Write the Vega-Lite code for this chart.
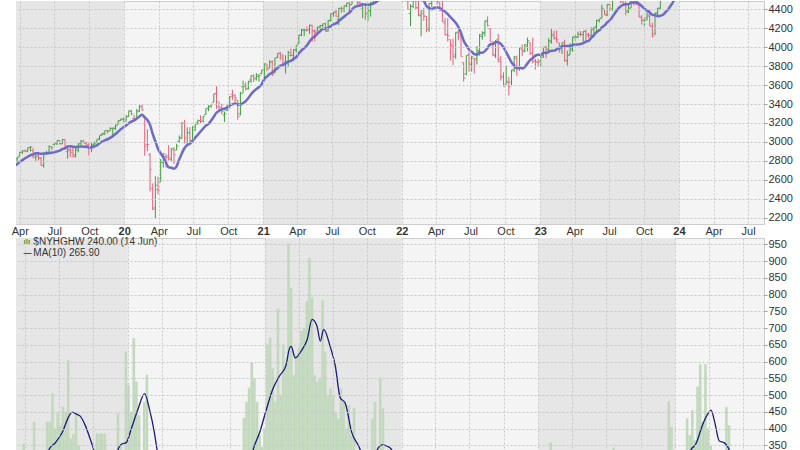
{
"$schema": "https://vega.github.io/schema/vega-lite/v6.json",
"padding": {"left": 10, "top": 0, "right": 0, "bottom": 0},
"bounds": "flush",
"spacing": 14,
"config": {
  "view": {"fill": "#f4f4f4", "stroke": "#a0a0a0", "strokeDash": [1, 1]},
  "font": "Liberation Sans",
  "axisY": {"labelOverlap": false, "labelFlush": false, "format": "d", "labelSeparation": 0}
},
"datasets": {
"bands": [{"s": "2019-01-01", "e": "2020-01-01"}, {"s": "2021-01-01", "e": "2022-01-01"}, {"s": "2023-01-01", "e": "2024-01-01"}],
"px": [
{"d":"2019-03-25","o":2822,"h":2836,"l":2785,"c":2834},
{"d":"2019-04-01","o":2848,"h":2893,"l":2848,"c":2893},
{"d":"2019-04-08","o":2889,"h":2910,"l":2874,"c":2907},
{"d":"2019-04-15","o":2908,"h":2917,"l":2891,"c":2905},
{"d":"2019-04-22","o":2898,"h":2940,"l":2898,"c":2940},
{"d":"2019-04-29","o":2940,"h":2954,"l":2900,"c":2946},
{"d":"2019-05-06","o":2909,"h":2932,"l":2825,"c":2881},
{"d":"2019-05-13","o":2841,"h":2892,"l":2801,"c":2860},
{"d":"2019-05-20","o":2841,"h":2872,"l":2805,"c":2826},
{"d":"2019-05-27","o":2831,"h":2841,"l":2750,"c":2752},
{"d":"2019-06-03","o":2751,"h":2876,"l":2728,"c":2873},
{"d":"2019-06-10","o":2885,"h":2905,"l":2873,"c":2887},
{"d":"2019-06-17","o":2889,"h":2964,"l":2887,"c":2950},
{"d":"2019-06-24","o":2951,"h":2951,"l":2911,"c":2942},
{"d":"2019-07-01","o":2971,"h":2996,"l":2963,"c":2990},
{"d":"2019-07-08","o":2980,"h":3014,"l":2966,"c":3014},
{"d":"2019-07-15","o":3017,"h":3017,"l":2975,"c":2977},
{"d":"2019-07-22","o":2983,"h":3028,"l":2976,"c":3026},
{"d":"2019-07-29","o":3024,"h":3028,"l":2914,"c":2932},
{"d":"2019-08-05","o":2898,"h":2944,"l":2822,"c":2919},
{"d":"2019-08-12","o":2907,"h":2943,"l":2840,"c":2889},
{"d":"2019-08-19","o":2913,"h":2940,"l":2835,"c":2847},
{"d":"2019-08-26","o":2866,"h":2940,"l":2836,"c":2926},
{"d":"2019-09-02","o":2910,"h":2985,"l":2891,"c":2979},
{"d":"2019-09-09","o":2988,"h":3021,"l":2964,"c":3007},
{"d":"2019-09-16","o":2996,"h":3022,"l":2985,"c":2992},
{"d":"2019-09-23","o":2984,"h":3002,"l":2946,"c":2962},
{"d":"2019-09-30","o":2968,"h":2992,"l":2855,"c":2952},
{"d":"2019-10-07","o":2944,"h":2993,"l":2892,"c":2970},
{"d":"2019-10-14","o":2965,"h":3004,"l":2961,"c":2986},
{"d":"2019-10-21","o":2997,"h":3027,"l":2992,"c":3023},
{"d":"2019-10-28","o":3036,"h":3067,"l":3021,"c":3067},
{"d":"2019-11-04","o":3078,"h":3094,"l":3066,"c":3093},
{"d":"2019-11-11","o":3080,"h":3121,"l":3075,"c":3120},
{"d":"2019-11-18","o":3118,"h":3127,"l":3090,"c":3110},
{"d":"2019-11-25","o":3117,"h":3154,"l":3115,"c":3141},
{"d":"2019-12-02","o":3144,"h":3150,"l":3070,"c":3146},
{"d":"2019-12-09","o":3141,"h":3182,"l":3125,"c":3169},
{"d":"2019-12-16","o":3183,"h":3225,"l":3183,"c":3221},
{"d":"2019-12-23","o":3226,"h":3247,"l":3223,"c":3240},
{"d":"2019-12-30","o":3240,"h":3259,"l":3212,"c":3235},
{"d":"2020-01-06","o":3217,"h":3282,"l":3214,"c":3265},
{"d":"2020-01-13","o":3271,"h":3330,"l":3264,"c":3330},
{"d":"2020-01-20","o":3321,"h":3338,"l":3280,"c":3295},
{"d":"2020-01-27","o":3248,"h":3285,"l":3214,"c":3226},
{"d":"2020-02-03","o":3235,"h":3348,"l":3235,"c":3328},
{"d":"2020-02-10","o":3319,"h":3385,"l":3315,"c":3380},
{"d":"2020-02-17","o":3370,"h":3393,"l":3328,"c":3338},
{"d":"2020-02-24","o":3257,"h":3260,"l":2855,"c":2954},
{"d":"2020-03-02","o":2974,"h":3136,"l":2900,"c":2972},
{"d":"2020-03-09","o":2863,"h":2883,"l":2478,"c":2711},
{"d":"2020-03-16","o":2508,"h":2562,"l":2281,"c":2305},
{"d":"2020-03-23","o":2290,"h":2637,"l":2192,"c":2541},
{"d":"2020-03-30","o":2498,"h":2632,"l":2447,"c":2489},
{"d":"2020-04-06","o":2578,"h":2819,"l":2575,"c":2790},
{"d":"2020-04-13","o":2782,"h":2880,"l":2729,"c":2875},
{"d":"2020-04-20","o":2846,"h":2868,"l":2727,"c":2837},
{"d":"2020-04-27","o":2855,"h":2965,"l":2803,"c":2831},
{"d":"2020-05-04","o":2816,"h":2934,"l":2798,"c":2930},
{"d":"2020-05-11","o":2915,"h":2945,"l":2767,"c":2864},
{"d":"2020-05-18","o":2913,"h":2980,"l":2913,"c":2955},
{"d":"2020-05-25","o":3005,"h":3068,"l":2988,"c":3044},
{"d":"2020-06-01","o":3038,"h":3211,"l":3032,"c":3194},
{"d":"2020-06-08","o":3199,"h":3233,"l":2984,"c":3041},
{"d":"2020-06-15","o":2994,"h":3155,"l":2966,"c":3098},
{"d":"2020-06-22","o":3095,"h":3155,"l":3004,"c":3009},
{"d":"2020-06-29","o":3018,"h":3166,"l":3000,"c":3130},
{"d":"2020-07-06","o":3155,"h":3186,"l":3115,"c":3185},
{"d":"2020-07-13","o":3206,"h":3236,"l":3184,"c":3225},
{"d":"2020-07-20","o":3225,"h":3280,"l":3200,"c":3216},
{"d":"2020-07-27","o":3219,"h":3272,"l":3209,"c":3271},
{"d":"2020-08-03","o":3289,"h":3352,"l":3284,"c":3351},
{"d":"2020-08-10","o":3356,"h":3387,"l":3327,"c":3373},
{"d":"2020-08-17","o":3380,"h":3399,"l":3362,"c":3397},
{"d":"2020-08-24","o":3418,"h":3509,"l":3418,"c":3508},
{"d":"2020-08-31","o":3509,"h":3588,"l":3349,"c":3427},
{"d":"2020-09-07","o":3369,"h":3425,"l":3310,"c":3341},
{"d":"2020-09-14","o":3364,"h":3402,"l":3292,"c":3319},
{"d":"2020-09-21","o":3285,"h":3320,"l":3210,"c":3298},
{"d":"2020-09-28","o":3334,"h":3393,"l":3324,"c":3348},
{"d":"2020-10-05","o":3368,"h":3485,"l":3355,"c":3477},
{"d":"2020-10-12","o":3500,"h":3550,"l":3441,"c":3484},
{"d":"2020-10-19","o":3493,"h":3502,"l":3419,"c":3465},
{"d":"2020-10-26","o":3441,"h":3441,"l":3234,"c":3270},
{"d":"2020-11-02","o":3296,"h":3529,"l":3280,"c":3510},
{"d":"2020-11-09","o":3583,"h":3646,"l":3511,"c":3585},
{"d":"2020-11-16","o":3601,"h":3628,"l":3543,"c":3558},
{"d":"2020-11-23","o":3566,"h":3645,"l":3552,"c":3638},
{"d":"2020-11-30","o":3654,"h":3701,"l":3623,"c":3699},
{"d":"2020-12-07","o":3699,"h":3713,"l":3633,"c":3663},
{"d":"2020-12-14","o":3675,"h":3726,"l":3648,"c":3709},
{"d":"2020-12-21","o":3693,"h":3711,"l":3636,"c":3703},
{"d":"2020-12-28","o":3723,"h":3760,"l":3715,"c":3756},
{"d":"2021-01-04","o":3764,"h":3827,"l":3663,"c":3825},
{"d":"2021-01-11","o":3803,"h":3823,"l":3749,"c":3768},
{"d":"2021-01-18","o":3781,"h":3861,"l":3781,"c":3841},
{"d":"2021-01-25","o":3851,"h":3859,"l":3694,"c":3714},
{"d":"2021-02-01","o":3732,"h":3887,"l":3726,"c":3887},
{"d":"2021-02-08","o":3892,"h":3935,"l":3886,"c":3934},
{"d":"2021-02-15","o":3939,"h":3950,"l":3866,"c":3907},
{"d":"2021-02-22","o":3885,"h":3929,"l":3789,"c":3811},
{"d":"2021-03-01","o":3842,"h":3915,"l":3723,"c":3842},
{"d":"2021-03-08","o":3844,"h":3961,"l":3794,"c":3943},
{"d":"2021-03-15","o":3914,"h":3983,"l":3901,"c":3913},
{"d":"2021-03-22","o":3916,"h":3978,"l":3853,"c":3975},
{"d":"2021-03-29","o":3969,"h":4020,"l":3944,"c":4020},
{"d":"2021-04-05","o":4035,"h":4130,"l":4035,"c":4129},
{"d":"2021-04-12","o":4125,"h":4192,"l":4118,"c":4185},
{"d":"2021-04-19","o":4179,"h":4195,"l":4118,"c":4180},
{"d":"2021-04-26","o":4185,"h":4219,"l":4164,"c":4181},
{"d":"2021-05-03","o":4192,"h":4238,"l":4142,"c":4233},
{"d":"2021-05-10","o":4228,"h":4237,"l":4057,"c":4174},
{"d":"2021-05-17","o":4169,"h":4188,"l":4062,"c":4156},
{"d":"2021-05-24","o":4170,"h":4218,"l":4170,"c":4204},
{"d":"2021-05-31","o":4216,"h":4234,"l":4188,"c":4230},
{"d":"2021-06-07","o":4229,"h":4249,"l":4212,"c":4247},
{"d":"2021-06-14","o":4248,"h":4261,"l":4165,"c":4166},
{"d":"2021-06-21","o":4173,"h":4287,"l":4165,"c":4281},
{"d":"2021-06-28","o":4285,"h":4356,"l":4271,"c":4352},
{"d":"2021-07-05","o":4357,"h":4372,"l":4321,"c":4370},
{"d":"2021-07-12","o":4372,"h":4393,"l":4322,"c":4327},
{"d":"2021-07-19","o":4296,"h":4415,"l":4233,"c":4412},
{"d":"2021-07-26","o":4409,"h":4430,"l":4364,"c":4395},
{"d":"2021-08-02","o":4406,"h":4441,"l":4368,"c":4437},
{"d":"2021-08-09","o":4437,"h":4469,"l":4423,"c":4468},
{"d":"2021-08-16","o":4462,"h":4480,"l":4368,"c":4442},
{"d":"2021-08-23","o":4451,"h":4513,"l":4451,"c":4509},
{"d":"2021-08-30","o":4514,"h":4546,"l":4514,"c":4535},
{"d":"2021-09-06","o":4536,"h":4536,"l":4454,"c":4459},
{"d":"2021-09-13","o":4474,"h":4486,"l":4426,"c":4433},
{"d":"2021-09-20","o":4403,"h":4465,"l":4306,"c":4455},
{"d":"2021-09-27","o":4450,"h":4465,"l":4289,"c":4357},
{"d":"2021-10-04","o":4348,"h":4429,"l":4279,"c":4391},
{"d":"2021-10-11","o":4385,"h":4475,"l":4323,"c":4471},
{"d":"2021-10-18","o":4464,"h":4560,"l":4448,"c":4545},
{"d":"2021-10-25","o":4553,"h":4608,"l":4537,"c":4605},
{"d":"2021-11-01","o":4610,"h":4718,"l":4595,"c":4697},
{"d":"2021-11-08","o":4701,"h":4714,"l":4630,"c":4683},
{"d":"2021-11-15","o":4689,"h":4718,"l":4672,"c":4698},
{"d":"2021-11-22","o":4712,"h":4743,"l":4585,"c":4595},
{"d":"2021-11-29","o":4628,"h":4672,"l":4495,"c":4538},
{"d":"2021-12-06","o":4548,"h":4713,"l":4532,"c":4712},
{"d":"2021-12-13","o":4710,"h":4732,"l":4600,"c":4620},
{"d":"2021-12-20","o":4587,"h":4740,"l":4531,"c":4726},
{"d":"2021-12-27","o":4733,"h":4808,"l":4733,"c":4766},
{"d":"2022-01-03","o":4778,"h":4819,"l":4662,"c":4677},
{"d":"2022-01-10","o":4655,"h":4749,"l":4582,"c":4662},
{"d":"2022-01-17","o":4632,"h":4632,"l":4395,"c":4398},
{"d":"2022-01-24","o":4356,"h":4453,"l":4223,"c":4432},
{"d":"2022-01-31","o":4431,"h":4595,"l":4414,"c":4500},
{"d":"2022-02-07","o":4505,"h":4590,"l":4401,"c":4419},
{"d":"2022-02-14","o":4413,"h":4490,"l":4327,"c":4349},
{"d":"2022-02-21","o":4333,"h":4385,"l":4115,"c":4385},
{"d":"2022-02-28","o":4354,"h":4416,"l":4279,"c":4329},
{"d":"2022-03-07","o":4327,"h":4327,"l":4157,"c":4204},
{"d":"2022-03-14","o":4188,"h":4465,"l":4162,"c":4463},
{"d":"2022-03-21","o":4462,"h":4546,"l":4424,"c":4543},
{"d":"2022-03-28","o":4541,"h":4637,"l":4507,"c":4546},
{"d":"2022-04-04","o":4547,"h":4593,"l":4450,"c":4488},
{"d":"2022-04-11","o":4474,"h":4471,"l":4381,"c":4393},
{"d":"2022-04-18","o":4385,"h":4513,"l":4267,"c":4272},
{"d":"2022-04-25","o":4255,"h":4309,"l":4125,"c":4132},
{"d":"2022-05-02","o":4131,"h":4307,"l":4062,"c":4123},
{"d":"2022-05-09","o":4082,"h":4082,"l":3858,"c":4024},
{"d":"2022-05-16","o":4013,"h":4090,"l":3810,"c":3901},
{"d":"2022-05-23","o":3920,"h":4158,"l":3876,"c":4158},
{"d":"2022-05-30","o":4151,"h":4178,"l":4073,"c":4109},
{"d":"2022-06-06","o":4135,"h":4168,"l":3901,"c":3901},
{"d":"2022-06-13","o":3838,"h":3838,"l":3637,"c":3675},
{"d":"2022-06-20","o":3715,"h":3914,"l":3705,"c":3912},
{"d":"2022-06-27","o":3920,"h":3946,"l":3741,"c":3825},
{"d":"2022-07-04","o":3815,"h":3910,"l":3743,"c":3899},
{"d":"2022-07-11","o":3881,"h":3883,"l":3722,"c":3863},
{"d":"2022-07-18","o":3883,"h":4013,"l":3818,"c":3962},
{"d":"2022-07-25","o":3965,"h":4140,"l":3911,"c":4130},
{"d":"2022-08-01","o":4113,"h":4168,"l":4079,"c":4145},
{"d":"2022-08-08","o":4155,"h":4280,"l":4114,"c":4280},
{"d":"2022-08-15","o":4270,"h":4325,"l":4218,"c":4228},
{"d":"2022-08-22","o":4195,"h":4203,"l":4057,"c":4058},
{"d":"2022-08-29","o":4041,"h":4062,"l":3906,"c":3924},
{"d":"2022-09-05","o":3910,"h":4076,"l":3886,"c":4067},
{"d":"2022-09-12","o":4084,"h":4140,"l":3838,"c":3873},
{"d":"2022-09-19","o":3849,"h":3906,"l":3647,"c":3693},
{"d":"2022-09-26","o":3682,"h":3736,"l":3585,"c":3586},
{"d":"2022-10-03","o":3610,"h":3807,"l":3604,"c":3640},
{"d":"2022-10-10","o":3626,"h":3686,"l":3492,"c":3583},
{"d":"2022-10-17","o":3632,"h":3762,"l":3591,"c":3752},
{"d":"2022-10-24","o":3764,"h":3905,"l":3736,"c":3901},
{"d":"2022-10-31","o":3882,"h":3912,"l":3698,"c":3771},
{"d":"2022-11-07","o":3780,"h":4002,"l":3750,"c":3993},
{"d":"2022-11-14","o":3979,"h":4029,"l":3906,"c":3965},
{"d":"2022-11-21","o":3956,"h":4034,"l":3946,"c":4026},
{"d":"2022-11-28","o":4006,"h":4101,"l":3956,"c":4072},
{"d":"2022-12-05","o":4052,"h":4052,"l":3918,"c":3934},
{"d":"2022-12-12","o":3940,"h":4101,"l":3828,"c":3852},
{"d":"2022-12-19","o":3853,"h":3876,"l":3764,"c":3845},
{"d":"2022-12-26","o":3843,"h":3878,"l":3795,"c":3840},
{"d":"2023-01-02","o":3853,"h":3906,"l":3795,"c":3895},
{"d":"2023-01-09","o":3911,"h":4004,"l":3887,"c":3999},
{"d":"2023-01-16","o":3999,"h":4015,"l":3885,"c":3973},
{"d":"2023-01-23","o":3979,"h":4095,"l":3949,"c":4071},
{"d":"2023-01-30","o":4056,"h":4195,"l":4037,"c":4136},
{"d":"2023-02-06","o":4119,"h":4176,"l":4080,"c":4090},
{"d":"2023-02-13","o":4096,"h":4176,"l":4047,"c":4079},
{"d":"2023-02-20","o":4046,"h":4046,"l":3944,"c":3970},
{"d":"2023-02-27","o":3992,"h":4050,"l":3928,"c":4046},
{"d":"2023-03-06","o":4055,"h":4079,"l":3846,"c":3862},
{"d":"2023-03-13","o":3856,"h":3963,"l":3808,"c":3917},
{"d":"2023-03-20","o":3917,"h":4040,"l":3917,"c":3971},
{"d":"2023-03-27","o":3982,"h":4110,"l":3950,"c":4109},
{"d":"2023-04-03","o":4102,"h":4133,"l":4069,"c":4105},
{"d":"2023-04-10","o":4110,"h":4164,"l":4095,"c":4138},
{"d":"2023-04-17","o":4138,"h":4170,"l":4114,"c":4133},
{"d":"2023-04-24","o":4134,"h":4170,"l":4049,"c":4169},
{"d":"2023-05-01","o":4166,"h":4187,"l":4048,"c":4136},
{"d":"2023-05-08","o":4136,"h":4154,"l":4099,"c":4124},
{"d":"2023-05-15","o":4127,"h":4212,"l":4099,"c":4192},
{"d":"2023-05-22","o":4191,"h":4213,"l":4103,"c":4205},
{"d":"2023-05-29","o":4220,"h":4290,"l":4167,"c":4282},
{"d":"2023-06-05","o":4283,"h":4299,"l":4260,"c":4299},
{"d":"2023-06-12","o":4308,"h":4449,"l":4303,"c":4410},
{"d":"2023-06-19","o":4396,"h":4401,"l":4341,"c":4348},
{"d":"2023-06-26","o":4337,"h":4458,"l":4328,"c":4450},
{"d":"2023-07-03","o":4450,"h":4456,"l":4385,"c":4399},
{"d":"2023-07-10","o":4404,"h":4528,"l":4385,"c":4505},
{"d":"2023-07-17","o":4508,"h":4578,"l":4500,"c":4536},
{"d":"2023-07-24","o":4543,"h":4607,"l":4528,"c":4582},
{"d":"2023-07-31","o":4585,"h":4594,"l":4467,"c":4478},
{"d":"2023-08-07","o":4492,"h":4528,"l":4456,"c":4464},
{"d":"2023-08-14","o":4458,"h":4490,"l":4336,"c":4370},
{"d":"2023-08-21","o":4386,"h":4450,"l":4360,"c":4406},
{"d":"2023-08-28","o":4415,"h":4542,"l":4415,"c":4516},
{"d":"2023-09-04","o":4510,"h":4516,"l":4442,"c":4457},
{"d":"2023-09-11","o":4463,"h":4511,"l":4448,"c":4450},
{"d":"2023-09-18","o":4445,"h":4466,"l":4317,"c":4320},
{"d":"2023-09-25","o":4310,"h":4338,"l":4238,"c":4288},
{"d":"2023-10-02","o":4284,"h":4319,"l":4216,"c":4309},
{"d":"2023-10-09","o":4289,"h":4385,"l":4284,"c":4328},
{"d":"2023-10-16","o":4342,"h":4394,"l":4223,"c":4224},
{"d":"2023-10-23","o":4221,"h":4259,"l":4104,"c":4117},
{"d":"2023-10-30","o":4139,"h":4366,"l":4127,"c":4358},
{"d":"2023-11-06","o":4364,"h":4415,"l":4329,"c":4415},
{"d":"2023-11-13","o":4406,"h":4521,"l":4402,"c":4514},
{"d":"2023-11-20","o":4513,"h":4568,"l":4511,"c":4559},
{"d":"2023-11-27","o":4555,"h":4595,"l":4537,"c":4595},
{"d":"2023-12-04","o":4564,"h":4609,"l":4547,"c":4604},
{"d":"2023-12-11","o":4610,"h":4738,"l":4593,"c":4719}
],
"ma": [
{"d":"2019-03-18","v":2749},{"d":"2019-03-25","v":2765},{"d":"2019-04-01","v":2788},{"d":"2019-04-08","v":2808},{"d":"2019-04-15","v":2828},{"d":"2019-04-22","v":2844},{"d":"2019-04-29","v":2859},{"d":"2019-05-06","v":2867},{"d":"2019-05-13","v":2879},{"d":"2019-05-20","v":2879},{"d":"2019-05-27","v":2874},{"d":"2019-06-03","v":2878},{"d":"2019-06-10","v":2878},{"d":"2019-06-17","v":2882},{"d":"2019-06-24","v":2886},{"d":"2019-07-01","v":2891},{"d":"2019-07-08","v":2898},{"d":"2019-07-15","v":2907},{"d":"2019-07-22","v":2924},{"d":"2019-07-29","v":2934},{"d":"2019-08-05","v":2951},{"d":"2019-08-12","v":2953},{"d":"2019-08-19","v":2949},{"d":"2019-08-26","v":2946},{"d":"2019-09-02","v":2950},{"d":"2019-09-09","v":2952},{"d":"2019-09-16","v":2949},{"d":"2019-09-23","v":2948},{"d":"2019-09-30","v":2941},{"d":"2019-10-07","v":2944},{"d":"2019-10-14","v":2951},{"d":"2019-10-21","v":2964},{"d":"2019-10-28","v":2986},{"d":"2019-11-04","v":3003},{"d":"2019-11-11","v":3017},{"d":"2019-11-18","v":3028},{"d":"2019-11-25","v":3042},{"d":"2019-12-02","v":3061},{"d":"2019-12-09","v":3083},{"d":"2019-12-16","v":3108},{"d":"2019-12-23","v":3133},{"d":"2019-12-30","v":3154},
{"d":"2020-01-06","v":3174},{"d":"2020-01-13","v":3198},{"d":"2020-01-20","v":3215},{"d":"2020-01-27","v":3227},{"d":"2020-02-03","v":3246},{"d":"2020-02-10","v":3269},{"d":"2020-02-17","v":3286},{"d":"2020-02-24","v":3259},{"d":"2020-03-02","v":3232},{"d":"2020-03-09","v":3180},{"d":"2020-03-16","v":3084},{"d":"2020-03-23","v":3005},{"d":"2020-03-30","v":2924},{"d":"2020-04-06","v":2881},{"d":"2020-04-13","v":2836},{"d":"2020-04-20","v":2781},{"d":"2020-04-27","v":2731},{"d":"2020-05-04","v":2728},{"d":"2020-05-11","v":2717},{"d":"2020-05-18","v":2742},{"d":"2020-05-25","v":2816},{"d":"2020-06-01","v":2881},{"d":"2020-06-08","v":2936},{"d":"2020-06-15","v":2967},{"d":"2020-06-22","v":2980},{"d":"2020-06-29","v":3010},{"d":"2020-07-06","v":3045},{"d":"2020-07-13","v":3075},{"d":"2020-07-20","v":3110},{"d":"2020-07-27","v":3141},{"d":"2020-08-03","v":3172},{"d":"2020-08-10","v":3190},{"d":"2020-08-17","v":3226},{"d":"2020-08-24","v":3267},{"d":"2020-08-31","v":3308},{"d":"2020-09-07","v":3329},{"d":"2020-09-14","v":3343},{"d":"2020-09-21","v":3350},{"d":"2020-09-28","v":3363},{"d":"2020-10-05","v":3384},{"d":"2020-10-12","v":3397},{"d":"2020-10-19","v":3406},{"d":"2020-10-26","v":3394},{"d":"2020-11-02","v":3394},{"d":"2020-11-09","v":3410},{"d":"2020-11-16","v":3431},{"d":"2020-11-23","v":3463},{"d":"2020-11-30","v":3503},{"d":"2020-12-07","v":3535},{"d":"2020-12-14","v":3558},{"d":"2020-12-21","v":3580},{"d":"2020-12-28","v":3609},
{"d":"2021-01-04","v":3665},{"d":"2021-01-11","v":3690},{"d":"2021-01-18","v":3716},{"d":"2021-01-25","v":3732},{"d":"2021-02-01","v":3757},{"d":"2021-02-08","v":3780},{"d":"2021-02-15","v":3804},{"d":"2021-02-22","v":3815},{"d":"2021-03-01","v":3829},{"d":"2021-03-08","v":3847},{"d":"2021-03-15","v":3856},{"d":"2021-03-22","v":3877},{"d":"2021-03-29","v":3895},{"d":"2021-04-05","v":3936},{"d":"2021-04-12","v":3966},{"d":"2021-04-19","v":3991},{"d":"2021-04-26","v":4018},{"d":"2021-05-03","v":4060},{"d":"2021-05-10","v":4093},{"d":"2021-05-17","v":4115},{"d":"2021-05-24","v":4144},{"d":"2021-05-31","v":4169},{"d":"2021-06-07","v":4192},{"d":"2021-06-14","v":4196},{"d":"2021-06-21","v":4205},{"d":"2021-06-28","v":4222},{"d":"2021-07-05","v":4241},{"d":"2021-07-12","v":4251},{"d":"2021-07-19","v":4275},{"d":"2021-07-26","v":4298},{"d":"2021-08-02","v":4322},{"d":"2021-08-09","v":4346},{"d":"2021-08-16","v":4365},{"d":"2021-08-23","v":4399},{"d":"2021-08-30","v":4425},{"d":"2021-09-06","v":4435},{"d":"2021-09-13","v":4442},{"d":"2021-09-20","v":4455},{"d":"2021-09-27","v":4449},{"d":"2021-10-04","v":4449},{"d":"2021-10-11","v":4452},{"d":"2021-10-18","v":4460},{"d":"2021-10-25","v":4476},{"d":"2021-11-01","v":4495},{"d":"2021-11-08","v":4510},{"d":"2021-11-15","v":4534},{"d":"2021-11-22","v":4550},{"d":"2021-11-29","v":4558},{"d":"2021-12-06","v":4594},{"d":"2021-12-13","v":4616},{"d":"2021-12-20","v":4642},{"d":"2021-12-27","v":4664},
{"d":"2022-01-03","v":4671},{"d":"2022-01-10","v":4668},{"d":"2022-01-17","v":4639},{"d":"2022-01-24","v":4613},{"d":"2022-01-31","v":4603},{"d":"2022-02-07","v":4591},{"d":"2022-02-14","v":4555},{"d":"2022-02-21","v":4531},{"d":"2022-02-28","v":4492},{"d":"2022-03-07","v":4436},{"d":"2022-03-14","v":4414},{"d":"2022-03-21","v":4402},{"d":"2022-03-28","v":4417},{"d":"2022-04-04","v":4423},{"d":"2022-04-11","v":4412},{"d":"2022-04-18","v":4397},{"d":"2022-04-25","v":4376},{"d":"2022-05-02","v":4349},{"d":"2022-05-09","v":4319},{"d":"2022-05-16","v":4289},{"d":"2022-05-23","v":4258},{"d":"2022-05-30","v":4215},{"d":"2022-06-06","v":4150},{"d":"2022-06-13","v":4069},{"d":"2022-06-20","v":4021},{"d":"2022-06-27","v":3976},{"d":"2022-07-04","v":3953},{"d":"2022-07-11","v":3927},{"d":"2022-07-18","v":3921},{"d":"2022-07-25","v":3943},{"d":"2022-08-01","v":3942},{"d":"2022-08-08","v":3959},{"d":"2022-08-15","v":3992},{"d":"2022-08-22","v":4030},{"d":"2022-08-29","v":4031},{"d":"2022-09-05","v":4056},{"d":"2022-09-12","v":4053},{"d":"2022-09-19","v":4036},{"d":"2022-09-26","v":3998},{"d":"2022-10-03","v":3949},{"d":"2022-10-10","v":3893},{"d":"2022-10-17","v":3840},{"d":"2022-10-24","v":3808},{"d":"2022-10-31","v":3779},{"d":"2022-11-07","v":3786},{"d":"2022-11-14","v":3776},{"d":"2022-11-21","v":3791},{"d":"2022-11-28","v":3829},{"d":"2022-12-05","v":3864},{"d":"2022-12-12","v":3885},{"d":"2022-12-19","v":3911},{"d":"2022-12-26","v":3920},
{"d":"2023-01-02","v":3919},{"d":"2023-01-09","v":3942},{"d":"2023-01-16","v":3940},{"d":"2023-01-23","v":3951},{"d":"2023-01-30","v":3962},{"d":"2023-02-06","v":3964},{"d":"2023-02-13","v":3978},{"d":"2023-02-20","v":3990},{"d":"2023-02-27","v":4010},{"d":"2023-03-06","v":4012},{"d":"2023-03-13","v":4014},{"d":"2023-03-20","v":4012},{"d":"2023-03-27","v":4025},{"d":"2023-04-03","v":4029},{"d":"2023-04-10","v":4029},{"d":"2023-04-17","v":4033},{"d":"2023-04-24","v":4042},{"d":"2023-05-01","v":4059},{"d":"2023-05-08","v":4066},{"d":"2023-05-15","v":4099},{"d":"2023-05-22","v":4128},{"d":"2023-05-29","v":4159},{"d":"2023-06-05","v":4178},{"d":"2023-06-12","v":4209},{"d":"2023-06-19","v":4230},{"d":"2023-06-26","v":4262},{"d":"2023-07-03","v":4285},{"d":"2023-07-10","v":4321},{"d":"2023-07-17","v":4363},{"d":"2023-07-24","v":4402},{"d":"2023-07-31","v":4429},{"d":"2023-08-07","v":4447},{"d":"2023-08-14","v":4454},{"d":"2023-08-21","v":4454},{"d":"2023-08-28","v":4471},{"d":"2023-09-04","v":4471},{"d":"2023-09-11","v":4476},{"d":"2023-09-18","v":4458},{"d":"2023-09-25","v":4433},{"d":"2023-10-02","v":4406},{"d":"2023-10-09","v":4391},{"d":"2023-10-16","v":4367},{"d":"2023-10-23","v":4342},{"d":"2023-10-30","v":4337},{"d":"2023-11-06","v":4327},{"d":"2023-11-13","v":4332},{"d":"2023-11-20","v":4343},{"d":"2023-11-27","v":4371},{"d":"2023-12-04","v":4402},{"d":"2023-12-11","v":4443},{"d":"2023-12-18","v":4486},{"d":"2023-12-25","v":4541},{"d":"2024-01-01","v":4598}
],
"nh": [
{"d":"2019-03-29","v":355},{"d":"2019-04-26","v":420},{"d":"2019-05-31","v":420},{"d":"2019-06-07","v":420},{"d":"2019-06-14","v":505},{"d":"2019-06-21","v":400},{"d":"2019-06-28","v":450},{"d":"2019-07-05","v":410},{"d":"2019-07-12","v":465},{"d":"2019-07-19","v":450},{"d":"2019-07-26","v":605},{"d":"2019-08-02","v":370},{"d":"2019-08-09","v":385},{"d":"2019-08-16","v":450},{"d":"2019-08-23","v":350},
{"d":"2019-10-11","v":385},{"d":"2019-10-18","v":385},{"d":"2019-10-25","v":385},{"d":"2019-11-01","v":385},
{"d":"2019-12-06","v":445},{"d":"2019-12-13","v":355},{"d":"2019-12-27","v":630},{"d":"2020-01-03","v":530},{"d":"2020-01-10","v":450},{"d":"2020-01-17","v":670},{"d":"2020-01-24","v":540},{"d":"2020-01-31","v":440},{"d":"2020-02-14","v":480},{"d":"2020-02-21","v":560},
{"d":"2020-11-06","v":432},{"d":"2020-11-13","v":480},{"d":"2020-11-20","v":522},{"d":"2020-11-27","v":597},{"d":"2020-12-04","v":550},{"d":"2020-12-11","v":480},{"d":"2020-12-18","v":380},{"d":"2020-12-24","v":345},{"d":"2020-12-31","v":400},{"d":"2021-01-08","v":651},{"d":"2021-01-15","v":671},{"d":"2021-01-22","v":580},{"d":"2021-01-29","v":480},{"d":"2021-02-05","v":759},{"d":"2021-02-12","v":500},{"d":"2021-02-19","v":651},{"d":"2021-02-26","v":600},{"d":"2021-03-05","v":952},{"d":"2021-03-12","v":820},{"d":"2021-03-19","v":560},{"d":"2021-03-26","v":620},{"d":"2021-04-02","v":640},{"d":"2021-04-09","v":691},{"d":"2021-04-16","v":700},{"d":"2021-04-23","v":780},{"d":"2021-04-30","v":910},{"d":"2021-05-07","v":791},{"d":"2021-05-14","v":560},{"d":"2021-05-21","v":540},{"d":"2021-05-28","v":550},{"d":"2021-06-04","v":783},{"d":"2021-06-11","v":630},{"d":"2021-06-18","v":500},{"d":"2021-06-25","v":520},{"d":"2021-07-02","v":500},{"d":"2021-07-09","v":450},{"d":"2021-07-16","v":430},{"d":"2021-07-23","v":520},{"d":"2021-07-30","v":480},{"d":"2021-08-06","v":400},{"d":"2021-08-13","v":470},{"d":"2021-08-20","v":380},{"d":"2021-08-27","v":462},
{"d":"2021-10-15","v":430},{"d":"2021-10-22","v":480},{"d":"2021-11-05","v":552},{"d":"2021-11-12","v":460},
{"d":"2023-02-03","v":358},{"d":"2023-07-21","v":343},
{"d":"2023-12-15","v":482},{"d":"2023-12-22","v":405},{"d":"2024-02-02","v":430},{"d":"2024-02-09","v":380},{"d":"2024-02-16","v":455},{"d":"2024-02-23","v":365},{"d":"2024-03-01","v":525},{"d":"2024-03-08","v":592},{"d":"2024-03-15","v":420},{"d":"2024-03-22","v":592},{"d":"2024-03-28","v":400},{"d":"2024-04-05","v":350},{"d":"2024-05-17","v":464},{"d":"2024-05-24","v":410}
],
"nma": [
{"d":"2019-03-29","v":250},{"d":"2019-05-10","v":280},{"d":"2019-05-27","v":300},{"d":"2019-06-05","v":338},{"d":"2019-06-22","v":358},{"d":"2019-07-10","v":388},{"d":"2019-07-28","v":437},{"d":"2019-08-05","v":449},{"d":"2019-08-19","v":442},{"d":"2019-08-27","v":437},{"d":"2019-09-10","v":408},{"d":"2019-09-23","v":368},{"d":"2019-10-02","v":338},{"d":"2019-10-09","v":310},{"d":"2019-10-25","v":290},{"d":"2019-11-15","v":290},{"d":"2019-11-28","v":305},{"d":"2019-12-06","v":338},{"d":"2019-12-15","v":353},{"d":"2019-12-28","v":358},{"d":"2020-01-10","v":398},{"d":"2020-01-28","v":457},{"d":"2020-02-15","v":504},{"d":"2020-02-28","v":457},{"d":"2020-03-12","v":388},{"d":"2020-03-19","v":338},{"d":"2020-03-25","v":300},{"d":"2020-04-15","v":100},{"d":"2020-10-15","v":150},{"d":"2020-11-23","v":300},{"d":"2020-12-01","v":338},{"d":"2020-12-18","v":388},{"d":"2021-01-05","v":457},{"d":"2021-01-22","v":517},{"d":"2021-02-09","v":557},{"d":"2021-02-26","v":587},{"d":"2021-03-07","v":637},{"d":"2021-03-12","v":646},{"d":"2021-03-23","v":611},{"d":"2021-04-11","v":637},{"d":"2021-04-24","v":666},{"d":"2021-05-07","v":726},{"d":"2021-05-20","v":706},{"d":"2021-05-29","v":661},{"d":"2021-06-07","v":696},{"d":"2021-06-24","v":646},{"d":"2021-07-08","v":587},{"d":"2021-07-21","v":492},{"d":"2021-08-03","v":477},{"d":"2021-08-21","v":388},{"d":"2021-09-12","v":338},{"d":"2021-09-22","v":300},{"d":"2021-10-08","v":290},{"d":"2021-10-18","v":310},{"d":"2021-10-31","v":343},{"d":"2021-11-09","v":351},{"d":"2021-11-22","v":348},{"d":"2021-12-05","v":338},{"d":"2021-12-13","v":300},{"d":"2022-01-15","v":150},{"d":"2023-10-01","v":150},{"d":"2024-01-30","v":300},{"d":"2024-02-13","v":338},{"d":"2024-02-25","v":353},{"d":"2024-03-15","v":413},{"d":"2024-03-28","v":443},{"d":"2024-04-06","v":455},{"d":"2024-04-15","v":423},{"d":"2024-04-28","v":363},{"d":"2024-05-11","v":358},{"d":"2024-05-24","v":338},{"d":"2024-06-02","v":310},{"d":"2024-06-14","v":266}
]
},
"vconcat": [
{
  "width": 748, "height": 223,
  "layer": [
    {"data": {"name": "bands"}, "mark": {"type": "rect", "fill": "#e6e6e6", "clip": true},
     "encoding": {
       "x": {"field": "s", "type": "temporal",
             "scale": {"type": "utc", "domain": [{"year": 2019, "month": 3, "date": 22, "utc": true}, {"year": 2024, "month": 8, "date": 12, "utc": true}]},
             "axis": {"orient": "bottom", "title": null, "tickCount": {"interval": "month", "step": 3}, "grid": true, "gridColor": "#c8c8c8", "gridDash": [2, 2], "domain": false, "ticks": false, "labelPadding": 1, "labelFontSize": 11, "labelColor": "#333333", "labelOverlap": false, "labelFlush": false, "zindex": 1,
                      "labelExpr": "utcmonth(datum.value) === 0 ? utcFormat(datum.value, '%y') : utcFormat(datum.value, '%b')",
                      "labelFontWeight": {"condition": {"test": "utcmonth(datum.value) === 0", "value": "bold"}, "value": "normal"}}},
       "x2": {"field": "e"}
     }},
    {"data": {"name": "px"}, "mark": {"type": "rule", "clip": true, "strokeWidth": 1},
     "encoding": {
       "x": {"field": "d", "type": "temporal"},
       "y": {"field": "l", "type": "quantitative",
             "scale": {"domain": [2133, 4488], "nice": false, "zero": false},
             "axis": {"orient": "right", "title": null, "values": [2200, 2400, 2600, 2800, 3000, 3200, 3400, 3600, 3800, 4000, 4200, 4400], "format": "d", "grid": true, "gridColor": "#c8c8c8", "gridDash": [2, 2], "domain": false, "tickSize": 3, "tickColor": "#999999", "labelPadding": 1, "labelFontSize": 11, "labelColor": "#333333", "labelFlush": false, "labelOverlap": false, "zindex": 1}},
       "y2": {"field": "h"},
       "color": {"condition": {"test": "datum.c >= datum.o", "value": "#3f9c3f"}, "value": "#e2607a"}
     }},
    {"data": {"name": "px"}, "mark": {"type": "tick", "orient": "horizontal", "size": 2, "thickness": 1, "xOffset": -1, "clip": true},
     "encoding": {
       "x": {"field": "d", "type": "temporal"},
       "y": {"field": "o", "type": "quantitative",
             "axis": {"orient": "right", "title": null, "values": [2200, 2400, 2600, 2800, 3000, 3200, 3400, 3600, 3800, 4000, 4200, 4400], "format": "d", "grid": true, "gridColor": "#c8c8c8", "gridDash": [2, 2], "domain": false, "tickSize": 3, "tickColor": "#999999", "labelPadding": 1, "labelFontSize": 11, "labelColor": "#333333", "labelFlush": false, "labelOverlap": false, "zindex": 1}},
       "color": {"condition": {"test": "datum.c >= datum.o", "value": "#3f9c3f"}, "value": "#e2607a"}
     }},
    {"data": {"name": "px"}, "mark": {"type": "tick", "orient": "horizontal", "size": 2, "thickness": 1, "xOffset": 1, "clip": true},
     "encoding": {
       "x": {"field": "d", "type": "temporal"},
       "y": {"field": "c", "type": "quantitative",
             "axis": {"orient": "right", "title": null, "values": [2200, 2400, 2600, 2800, 3000, 3200, 3400, 3600, 3800, 4000, 4200, 4400], "format": "d", "grid": true, "gridColor": "#c8c8c8", "gridDash": [2, 2], "domain": false, "tickSize": 3, "tickColor": "#999999", "labelPadding": 1, "labelFontSize": 11, "labelColor": "#333333", "labelFlush": false, "labelOverlap": false, "zindex": 1}},
       "color": {"condition": {"test": "datum.c >= datum.o", "value": "#3f9c3f"}, "value": "#e2607a"}
     }},
    {"data": {"name": "ma"}, "mark": {"type": "line", "color": "#6c6cc6", "strokeWidth": 2.5, "clip": true, "interpolate": "monotone"},
     "encoding": {
       "x": {"field": "d", "type": "temporal"},
       "y": {"field": "v", "type": "quantitative",
             "axis": {"orient": "right", "title": null, "values": [2200, 2400, 2600, 2800, 3000, 3200, 3400, 3600, 3800, 4000, 4200, 4400], "format": "d", "grid": true, "gridColor": "#c8c8c8", "gridDash": [2, 2], "domain": false, "tickSize": 3, "tickColor": "#999999", "labelPadding": 1, "labelFontSize": 11, "labelColor": "#333333", "labelFlush": false, "labelOverlap": false, "zindex": 1}}
     }}
  ]
},
{
  "width": 748, "height": 213,
  "layer": [
    {"data": {"name": "bands"}, "mark": {"type": "rect", "fill": "#e6e6e6", "clip": true},
     "encoding": {
       "x": {"field": "s", "type": "temporal",
             "scale": {"type": "utc", "domain": [{"year": 2019, "month": 3, "date": 22, "utc": true}, {"year": 2024, "month": 8, "date": 12, "utc": true}]},
             "axis": {"orient": "bottom", "title": null, "tickCount": {"interval": "month", "step": 3}, "grid": true, "gridColor": "#c8c8c8", "gridDash": [2, 2], "domain": false, "ticks": false, "labels": false, "zindex": 1}},
       "x2": {"field": "e"}
     }},
    {"data": {"name": "nh"}, "mark": {"type": "bar", "color": "#c2d9be", "size": 2.6, "clip": true},
     "encoding": {
       "x": {"field": "d", "type": "temporal"},
       "y": {"field": "v", "type": "quantitative",
             "scale": {"domain": [333, 968.8], "nice": false, "zero": false},
             "axis": {"orient": "right", "title": null, "values": [350, 400, 450, 500, 550, 600, 650, 700, 750, 800, 850, 900, 950], "format": "d", "grid": true, "gridColor": "#c8c8c8", "gridDash": [2, 2], "domain": false, "tickSize": 3, "tickColor": "#999999", "labelPadding": 1, "labelFontSize": 11, "labelColor": "#333333", "labelFlush": false, "labelOverlap": false, "zindex": 1}},
       "y2": {"datum": 0}
     }},
    {"data": {"name": "nma"}, "mark": {"type": "line", "color": "#1c1c78", "strokeWidth": 1.3, "clip": true, "interpolate": "monotone"},
     "encoding": {
       "x": {"field": "d", "type": "temporal"},
       "y": {"field": "v", "type": "quantitative",
             "axis": {"orient": "right", "title": null, "values": [350, 400, 450, 500, 550, 600, 650, 700, 750, 800, 850, 900, 950], "format": "d", "grid": true, "gridColor": "#c8c8c8", "gridDash": [2, 2], "domain": false, "tickSize": 3, "tickColor": "#999999", "labelPadding": 1, "labelFontSize": 11, "labelColor": "#333333", "labelFlush": false, "labelOverlap": false, "zindex": 1}}
     }},
    {"data": {"values": [{"t": "ılı", "y": 956}, {"t": "—", "y": 925}]}, "mark": {"type": "text", "align": "left", "baseline": "middle", "fontSize": 8, "fontWeight": "bold"},
     "encoding": {
       "x": {"datum": {"year": 2019, "month": 3, "date": 29, "utc": true}, "type": "temporal"},
       "y": {"field": "y", "type": "quantitative",
             "axis": {"orient": "right", "title": null, "values": [350, 400, 450, 500, 550, 600, 650, 700, 750, 800, 850, 900, 950], "format": "d", "grid": true, "gridColor": "#c8c8c8", "gridDash": [2, 2], "domain": false, "tickSize": 3, "tickColor": "#999999", "labelPadding": 1, "labelFontSize": 11, "labelColor": "#333333", "labelFlush": false, "labelOverlap": false, "zindex": 1}},
       "color": {"condition": {"test": "datum.y > 940", "value": "#3f9c3f"}, "value": "#1c1c78"},
       "text": {"field": "t"}
     }},
    {"data": {"values": [{"t": "$NYHGHW 240.00 (14 Jun)", "y": 956}, {"t": "MA(10) 265.90", "y": 925}]}, "mark": {"type": "text", "align": "left", "baseline": "middle", "fontSize": 10, "color": "#333333"},
     "encoding": {
       "x": {"datum": {"year": 2019, "month": 4, "date": 24, "utc": true}, "type": "temporal"},
       "y": {"field": "y", "type": "quantitative",
             "axis": {"orient": "right", "title": null, "values": [350, 400, 450, 500, 550, 600, 650, 700, 750, 800, 850, 900, 950], "format": "d", "grid": true, "gridColor": "#c8c8c8", "gridDash": [2, 2], "domain": false, "tickSize": 3, "tickColor": "#999999", "labelPadding": 1, "labelFontSize": 11, "labelColor": "#333333", "labelFlush": false, "labelOverlap": false, "zindex": 1}},
       "text": {"field": "t"}
     }}
  ]
}
]
}
